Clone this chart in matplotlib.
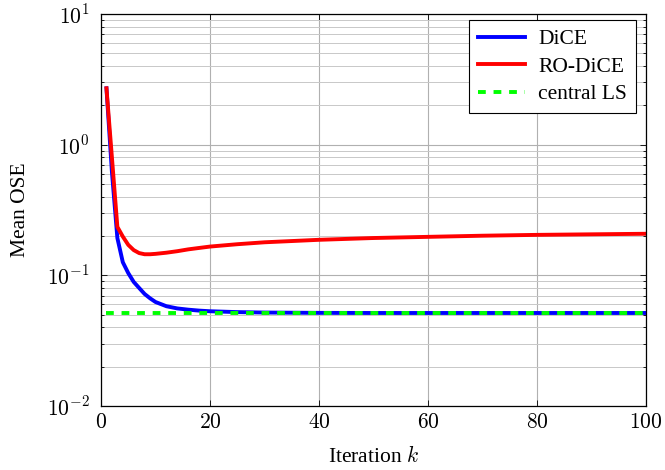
import numpy as np
import matplotlib
matplotlib.use("Agg")
import matplotlib.pyplot as plt
from matplotlib.ticker import FixedLocator, FuncFormatter, LogLocator, NullFormatter

# ---- data ----
iterations = [1, 2, 3, 4, 5, 6, 7, 8, 9, 10, 12, 14, 16, 18, 20, 25, 30, 40, 50, 60, 70, 80, 90, 100]
dice = [2.70, 0.62, 0.193, 0.126, 0.104, 0.089, 0.080, 0.072, 0.0667, 0.0625, 0.0580, 0.0558,
        0.0546, 0.0537, 0.0531, 0.0523, 0.0519, 0.0516, 0.0515, 0.0515, 0.0515, 0.0515, 0.0515, 0.0515]
ro_dice = [2.70, 0.80, 0.235, 0.198, 0.171, 0.156, 0.148, 0.145, 0.145, 0.146, 0.149, 0.153,
           0.158, 0.162, 0.166, 0.173, 0.179, 0.187, 0.193, 0.197, 0.201, 0.204, 0.206, 0.208]
central_ls_k = [1, 100]
central_ls = [0.0515, 0.0515]

x_ticks = [0, 20, 40, 60, 80, 100]
y_ticks = [1e-2, 1e-1, 1e0, 1e1]

FS = 15.5
plt.rcParams['font.family'] = ['Liberation Serif', 'DejaVu Serif']
plt.rcParams['mathtext.fontset'] = 'cm'

fig = plt.figure(figsize=(6.65, 4.70), dpi=100)
ax = fig.add_axes([0.1519, 0.1362, 0.9714 - 0.1519, 0.9702 - 0.1362])

ax.plot(iterations, dice, color='#0000ff', lw=2.8, label='DiCE', solid_joinstyle='round')
ax.plot(iterations, ro_dice, color='#ff0000', lw=2.8, label='RO-DiCE', solid_joinstyle='round')
ax.plot(central_ls_k, central_ls, color='#00ff00', lw=2.8, dashes=(2, 2), label='central LS',
        dash_capstyle='butt')

ax.set_yscale('log')
ax.set_xlim(0, 100)
ax.set_ylim(1e-2, 1e1)

ax.xaxis.set_major_locator(FixedLocator(x_ticks))
ax.xaxis.set_major_formatter(FuncFormatter(lambda v, p: f'${int(round(v))}$'))
ax.yaxis.set_major_locator(FixedLocator(y_ticks))
ax.yaxis.set_major_formatter(FuncFormatter(lambda v, p: f'$10^{{{int(round(np.log10(v)))}}}$'))
ax.yaxis.set_minor_locator(LogLocator(base=10, subs=np.arange(2, 10), numticks=20))
ax.yaxis.set_minor_formatter(NullFormatter())

ax.grid(True, which='major', color='#b0b0b0', lw=0.8)
ax.grid(True, which='minor', axis='y', color='#c8c8c8', lw=0.7)
ax.set_axisbelow(True)

ax.tick_params(which='both', direction='in', top=True, right=True, labelsize=FS, width=0.6)
ax.tick_params(which='major', length=4)
ax.tick_params(which='minor', length=2.5)
ax.tick_params(axis='x', pad=6)
ax.tick_params(axis='y', pad=8)
for s in ax.spines.values():
    s.set_linewidth(0.9)

ax.set_xlabel('Iteration $k$', fontsize=FS, labelpad=9)
ax.set_ylabel('Mean OSE', fontsize=FS, labelpad=12)

leg = ax.legend(loc='upper right', bbox_to_anchor=(0.993, 1.0), fontsize=FS, handlelength=2.2,
                frameon=True, fancybox=False, edgecolor='black', framealpha=1,
                borderaxespad=0.3, labelspacing=0.35, borderpad=0.4, handletextpad=0.6)
leg.get_frame().set_linewidth(0.8)

fig.savefig('out.png', dpi=100)
